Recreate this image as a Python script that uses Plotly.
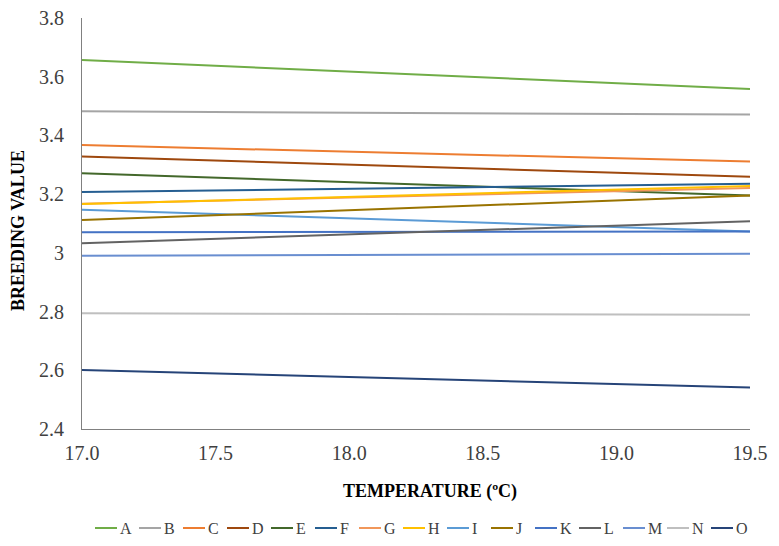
import plotly.graph_objects as go

temperature = [17.0, 19.5]
series_names = ["A", "B", "C", "D", "E", "F", "G", "H", "I", "J", "K", "L", "M", "N", "O"]
start_values = [3.657, 3.482, 3.367, 3.328, 3.271, 3.207, 3.167, 3.166, 3.147, 3.112, 3.070, 3.033, 2.990, 2.794, 2.601]
end_values = [3.558, 3.471, 3.311, 3.259, 3.195, 3.235, 3.221, 3.228, 3.073, 3.195, 3.073, 3.108, 2.997, 2.789, 2.541]
colors = ["#70AD47", "#A5A5A5", "#ED7D31", "#9E480E", "#43682B", "#255E91", "#F1975A",
          "#FFC000", "#5B9BD5", "#997300", "#4472C4", "#636363", "#698ED0", "#BFBFBF", "#264478"]

x_ticks = [17.0, 17.5, 18.0, 18.5, 19.0, 19.5]
y_ticks = [2.4, 2.6, 2.8, 3.0, 3.2, 3.4, 3.6, 3.8]
y_tick_labels = ["2.4", "2.6", "2.8", "3", "3.2", "3.4", "3.6", "3.8"]

FONT = "Liberation Serif"

fig = go.Figure()
for name, s, e, c in zip(series_names, start_values, end_values, colors):
    fig.add_trace(go.Scatter(x=temperature, y=[s, e], mode="lines", name=name,
                             line=dict(color=c, width=2), showlegend=False))

plot_left, plot_width, plot_bottom, plot_height = 74, 668, 421, 411
px = lambda v: (v - plot_left) / plot_width
py = lambda v: (plot_bottom - v) / plot_height

# Excel-style compact legend row below the plot
legend_start_px, legend_step_px, legend_line_px, legend_y_px = 87, 44.0, 22, 520
for i, (name, c) in enumerate(zip(series_names, colors)):
    x0 = legend_start_px + i * legend_step_px
    fig.add_shape(type="line", xref="paper", yref="paper", x0=px(x0), x1=px(x0 + legend_line_px),
                  y0=py(legend_y_px), y1=py(legend_y_px), line=dict(color=c, width=2))
    fig.add_annotation(xref="paper", yref="paper", x=px(x0 + legend_line_px + 1), y=py(legend_y_px),
                       text=name, showarrow=False, xanchor="left", yanchor="middle",
                       font=dict(size=16, family=FONT, color="#404040"))

# Axis titles
fig.add_annotation(xref="paper", yref="paper", x=px(422), y=py(484), text="<b>TEMPERATURE (ºC)</b>",
                   showarrow=False, xanchor="center", yanchor="middle",
                   font=dict(size=18, family=FONT, color="#000000"))
fig.add_annotation(xref="paper", yref="paper", x=px(10), y=py(223), text="<b>BREEDING VALUE</b>",
                   showarrow=False, xanchor="center", yanchor="middle", textangle=-90,
                   font=dict(size=18, family=FONT, color="#000000"))

fig.update_layout(
    width=779, height=546,
    margin=dict(l=74, r=37, t=10, b=125, autoexpand=False),
    plot_bgcolor="white", paper_bgcolor="white",
    font=dict(family=FONT, color="#000000"),
    xaxis=dict(range=[17.0, 19.5], tickvals=x_ticks, ticktext=[f"{v:.1f}" for v in x_ticks],
               showgrid=False, zeroline=False, showline=True, linecolor="#808080", linewidth=1,
               ticks="", tickfont=dict(size=20, family=FONT, color="#404040"), ticklabelstandoff=6,
               ticklabeloverflow="allow"),
    yaxis=dict(range=[2.4, 3.8], tickvals=y_ticks, ticktext=y_tick_labels,
               showgrid=False, zeroline=False, showline=True, linecolor="#808080", linewidth=1,
               ticks="", tickfont=dict(size=20, family=FONT, color="#404040"), ticklabelstandoff=13,
               ticklabeloverflow="allow"),
    showlegend=False,
)

fig.write_html("out.html")
